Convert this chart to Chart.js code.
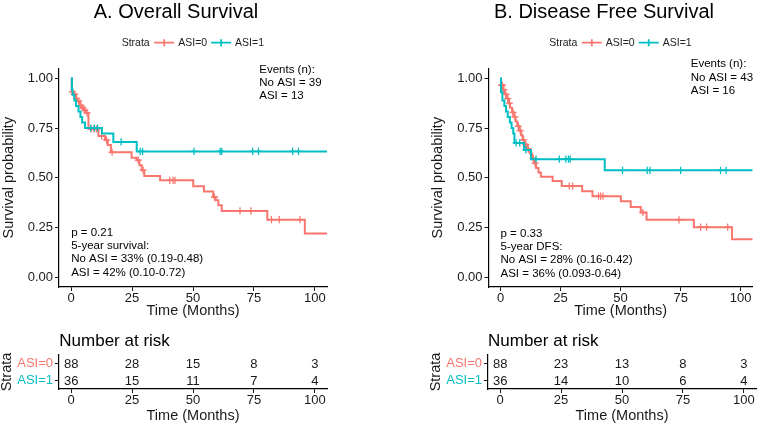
<!DOCTYPE html>
<html>
<head>
<meta charset="utf-8">
<script src="https://cdn.jsdelivr.net/npm/chart.js@4.4.1/dist/chart.umd.min.js"></script>
<style>
  html, body { margin: 0; padding: 0; background: #fff; }
  #wrap { position: relative; width: 758px; height: 425px; overflow: hidden; }
  canvas { position: absolute; }
</style>
</head>
<body>
<div id="wrap">
  <canvas id="kmA" width="379" height="320" style="left:0;top:0"></canvas>
  <canvas id="riskA" width="379" height="105" style="left:0;top:320px"></canvas>
  <canvas id="kmB" width="379" height="320" style="left:379px;top:0"></canvas>
  <canvas id="riskB" width="379" height="105" style="left:379px;top:320px"></canvas>
</div>
<script>
// strata and axis ticks
const strata = ['ASI=0', 'ASI=1'];
const timeTicks = [0, 25, 50, 75, 100];
const survTicks = [0, 0.25, 0.5, 0.75, 1];
const riskTimes = [0, 25, 50, 75, 100];

// A. Overall survival - ASI=0 (event times, survival after each step, censor times)
const osTimes0 = [0, 0.2, 1.0, 1.8, 2.6, 3.5, 4.4, 5.2, 6.0, 7.1, 11.2, 13.9, 15.0, 16.3, 24.8, 26.9, 28.0, 29.0, 30.0, 36.5, 50.1, 54.5, 58.3, 59.3, 60.4, 61.8, 80.5, 95.9];
const osSurv0 = [1, 0.932, 0.92, 0.898, 0.886, 0.863, 0.851, 0.84, 0.826, 0.745, 0.71, 0.69, 0.665, 0.628, 0.60, 0.588, 0.563, 0.538, 0.509, 0.487, 0.457, 0.43, 0.403, 0.387, 0.361, 0.333, 0.289, 0.219];
const osCens0 = [0.5, 1.3, 2.2, 3.0, 4.0, 4.8, 5.6, 6.5, 8.2, 9.3, 10.4, 12.5, 14.5, 16.8, 27.5, 29.5, 40.5, 41.8, 42.6, 58.8, 69.3, 73.8, 82.2, 85.4, 93.9];
// A. Overall survival - ASI=1
const osTimes1 = [0, 0.3, 0.6, 1.3, 2.0, 3.0, 3.8, 4.5, 5.7, 12.6, 17.3, 26.9];
const osSurv1 = [1, 0.944, 0.917, 0.889, 0.861, 0.833, 0.806, 0.778, 0.75, 0.722, 0.68, 0.632];
const osCens1 = [8.0, 9.5, 10.8, 20.5, 28.3, 29.3, 50.4, 61.1, 61.8, 74.5, 76.9, 90.9, 93.3];
const osRisk0 = [88, 28, 15, 8, 3];
const osRisk1 = [36, 15, 11, 7, 4];

// B. Disease free survival - ASI=0
const dfsTimes0 = [0, 0.2, 1.0, 1.8, 2.5, 3.4, 4.0, 4.8, 5.5, 6.3, 7.0, 7.8, 8.6, 9.2, 10.0, 11.0, 12.3, 13.2, 14.0, 14.8, 15.8, 16.8, 21.7, 25.5, 34.0, 38.3, 50.1, 54.2, 58.4, 60.8, 80.5, 96.4];
const dfsSurv0 = [1, 0.966, 0.943, 0.92, 0.898, 0.875, 0.852, 0.829, 0.806, 0.783, 0.76, 0.737, 0.714, 0.69, 0.667, 0.644, 0.621, 0.597, 0.573, 0.549, 0.526, 0.505, 0.483, 0.458, 0.432, 0.407, 0.381, 0.353, 0.325, 0.288, 0.251, 0.19];
const dfsCens0 = [0.4, 0.8, 1.4, 2.2, 3.0, 3.7, 5.2, 6.0, 7.4, 8.2, 9.6, 10.5, 11.6, 13.6, 14.4, 28.6, 30.0, 40.8, 41.7, 42.7, 59.3, 74.3, 83.3, 85.8, 94.6];
// B. Disease free survival - ASI=1
const dfsTimes1 = [0, 0.2, 0.8, 1.6, 2.3, 3.0, 3.9, 4.6, 5.3, 5.8, 9.8, 12.7, 43.4];
const dfsSurv1 = [1, 0.93, 0.889, 0.861, 0.833, 0.806, 0.778, 0.75, 0.722, 0.675, 0.64, 0.593, 0.537];
const dfsCens1 = [6.5, 8.0, 10.6, 14.8, 24.5, 27.2, 28.3, 29.0, 50.8, 61.1, 62.2, 75.0, 91.6, 93.9];
const dfsRisk0 = [88, 23, 13, 8, 3];
const dfsRisk1 = [36, 14, 10, 6, 4];

const FONT = "'Liberation Sans', Arial, Helvetica, sans-serif";
const INK = '#1a1a1a';
const colors = ['#F8766D', '#00BFC4'];
const X_MIN = -5, X_MAX = 105;
Chart.defaults.font.family = FONT;
Chart.defaults.color = INK;

function stepData(times, surv) {
  const pts = times.map((t, i) => ({ x: t, y: surv[i] }));
  pts.push({ x: X_MAX, y: surv[surv.length - 1] });
  return pts;
}
function survAt(times, surv, t) {
  let s = surv[0];
  for (let i = 0; i < times.length; i++) if (times[i] <= t) s = surv[i];
  return s;
}

// draws title, legend and annotation texts
function notesPlugin(spec) {
  return {
    id: 'notes',
    afterDraw(chart) {
      const ctx = chart.ctx;
      const xs = chart.scales.x, ys = chart.scales.y;
      ctx.save();
      ctx.textBaseline = 'alphabetic';
      if (spec.title) {
        const t = spec.title;
        ctx.font = t.size + 'px ' + FONT;
        ctx.fillStyle = '#000';
        ctx.textAlign = t.align || 'center';
        ctx.fillText(t.text, t.x, t.y);
      }
      if (spec.legend) {
        const lg = spec.legend;
        ctx.font = lg.size + 'px ' + FONT;
        ctx.fillStyle = '#222';
        ctx.textAlign = 'left';
        const by = lg.y + 0.36 * lg.size;
        let x = lg.x;
        ctx.fillText('Strata', x, by);
        x += ctx.measureText('Strata').width + 4.5;
        strata.forEach((s, k) => {
          ctx.strokeStyle = colors[k];
          ctx.lineWidth = 1.8;
          ctx.beginPath();
          ctx.moveTo(x, lg.y); ctx.lineTo(x + 20, lg.y);
          ctx.moveTo(x + 10, lg.y - 3.5); ctx.lineTo(x + 10, lg.y + 3.5);
          ctx.stroke();
          x += 24;
          ctx.fillStyle = '#222';
          ctx.fillText(s, x, by);
          x += ctx.measureText(s).width + 4;
        });
      }
      (spec.texts || []).forEach(tx => {
        ctx.font = tx.size + 'px ' + FONT;
        ctx.fillStyle = tx.color || '#000';
        ctx.textAlign = 'left';
        const x = tx.px ? tx.px[0] : xs.getPixelForValue(tx.at[0]);
        const y = (tx.px ? tx.px[1] : ys.getPixelForValue(tx.at[1])) + 0.36 * tx.size;
        tx.lines.forEach((line, i) => ctx.fillText(line, x, y + i * (tx.lh || 0)));
      });
      ctx.restore();
    }
  };
}

const riskLabels = {
  id: 'riskLabels',
  afterDatasetsDraw(chart) {
    const ctx = chart.ctx;
    ctx.save();
    ctx.font = '13px ' + FONT;
    ctx.fillStyle = INK;
    ctx.textAlign = 'center';
    ctx.textBaseline = 'alphabetic';
    chart.data.datasets.forEach((ds, di) => {
      chart.getDatasetMeta(di).data.forEach((pt, i) => {
        ctx.fillText(String(ds.counts[i]), pt.x, pt.y + 4.7);
      });
    });
    ctx.restore();
  }
};

function xScale(height) {
  return {
    type: 'linear', min: X_MIN, max: X_MAX,
    afterBuildTicks: s => { s.ticks = timeTicks.map(v => ({ value: v })); },
    afterFit: s => { s.height = height; },
    grid: { display: true, drawOnChartArea: false, tickLength: 4, color: INK, lineWidth: 1 },
    border: { display: true, color: '#000', width: 1.2 },
    ticks: { font: { size: 13 }, color: INK, padding: 0, maxRotation: 0, autoSkip: false },
    title: { display: true, text: 'Time (Months)', font: { size: 14.5 }, color: INK, padding: { top: 0, bottom: 0.5 } }
  };
}

function kmChart(id, opt) {
  const datasets = [];
  opt.curves.forEach((c, k) => {
    datasets.push({
      data: stepData(c.times, c.surv),
      showLine: true, stepped: 'before', fill: false,
      borderColor: colors[k], borderWidth: 2, pointRadius: 0, order: 10 - k * 2
    });
    datasets.push({
      data: c.cens.map(t => ({ x: t, y: survAt(c.times, c.surv, t) })),
      showLine: false, pointStyle: 'cross', pointRadius: 3.6,
      borderColor: colors[k], borderWidth: 1.3, order: 9 - k * 2
    });
  });
  return new Chart(document.getElementById(id), {
    type: 'scatter',
    data: { datasets },
    options: {
      responsive: false, animation: false, events: [], devicePixelRatio: 1,
      layout: { padding: { left: opt.padLeft, right: opt.padRight, top: 68.4, bottom: 0 } },
      plugins: { legend: { display: false }, tooltip: { enabled: false } },
      scales: {
        x: xScale(33),
        y: {
          type: 'linear', min: -0.05, max: 1.05,
          afterBuildTicks: s => { s.ticks = survTicks.map(v => ({ value: v })); },
          afterFit: s => { s.width = opt.yWidth; },
          grid: { display: true, drawOnChartArea: false, tickLength: 4, color: INK, lineWidth: 1 },
          border: { display: true, color: '#000', width: 1.2 },
          ticks: { font: { size: 13 }, color: INK, padding: 2, autoSkip: false, callback: v => v.toFixed(2) },
          title: { display: true, text: 'Survival probability', font: { size: 14.5 }, color: INK, padding: { top: 0.6, bottom: 0 } }
        }
      }
    },
    plugins: [notesPlugin(opt.notes)]
  });
}

function riskChart(id, opt) {
  const datasets = opt.counts.map((cnt, k) => ({
    data: riskTimes.map(t => ({ x: t, y: strata[k] })),
    counts: cnt, pointRadius: 0, showLine: false
  }));
  return new Chart(document.getElementById(id), {
    type: 'scatter',
    data: { datasets },
    options: {
      responsive: false, animation: false, events: [], devicePixelRatio: 1,
      layout: { padding: { left: opt.padLeft, right: opt.padRight, top: 35, bottom: 0 } },
      plugins: { legend: { display: false }, tooltip: { enabled: false } },
      scales: {
        x: xScale(36),
        y: {
          type: 'category', labels: strata, offset: true,
          afterFit: s => { s.width = opt.yWidth; },
          grid: { display: true, offset: false, drawOnChartArea: false, tickLength: 4, color: INK, lineWidth: 1 },
          border: { display: true, color: '#000', width: 1.2 },
          ticks: { font: { size: 13 }, color: c => colors[c.index], padding: 2, autoSkip: false },
          title: { display: true, text: 'Strata', font: { size: 14.5, lineHeight: 1 }, color: INK, padding: 0 }
        }
      }
    },
    plugins: [riskLabels, notesPlugin(opt.notes)]
  });
}

kmChart('kmA', {
  padLeft: 0, padRight: 52, yWidth: 59,
  curves: [
    { times: osTimes0, surv: osSurv0, cens: osCens0 },
    { times: osTimes1, surv: osSurv1, cens: osCens1 }
  ],
  notes: {
    title: { text: 'A. Overall Survival', x: 176, y: 18.3, size: 20 },
    legend: { x: 121.7, y: 42.7, size: 10.5 },
    texts: [
      { at: [0, 0.228], size: 11.5, lh: 13.3, lines: ['p = 0.21', '5-year survival:', 'No ASI = 33% (0.19-0.48)', 'ASI = 42% (0.10-0.72)'] },
      { at: [77.2, 1.05], size: 11.5, lh: 13.3, lines: ['Events (n):', 'No ASI = 39', 'ASI = 13'] }
    ]
  }
});

kmChart('kmB', {
  padLeft: 50, padRight: 2, yWidth: 59.5,
  curves: [
    { times: dfsTimes0, surv: dfsSurv0, cens: dfsCens0 },
    { times: dfsTimes1, surv: dfsSurv1, cens: dfsCens1 }
  ],
  notes: {
    title: { text: 'B. Disease Free Survival', x: 225, y: 18.3, size: 20 },
    legend: { x: 170.3, y: 42.7, size: 10.5 },
    texts: [
      { at: [0, 0.224], size: 11.5, lh: 13.3, lines: ['p = 0.33', '5-year DFS:', 'No ASI = 28% (0.16-0.42)', 'ASI = 36% (0.093-0.64)'] },
      { at: [79.2, 1.076], size: 11.5, lh: 13.3, lines: ['Events (n):', 'No ASI = 43', 'ASI = 16'] }
    ]
  }
});

riskChart('riskA', {
  padLeft: 0, padRight: 52, yWidth: 59,
  counts: [osRisk0, osRisk1],
  notes: { texts: [{ px: [59.3, 20], size: 17, lines: ['Number at risk'] }] }
});

riskChart('riskB', {
  padLeft: 50, padRight: 2, yWidth: 59,
  counts: [dfsRisk0, dfsRisk1],
  notes: { texts: [{ px: [109, 20], size: 17, lines: ['Number at risk'] }] }
});
</script>
</body>
</html>
